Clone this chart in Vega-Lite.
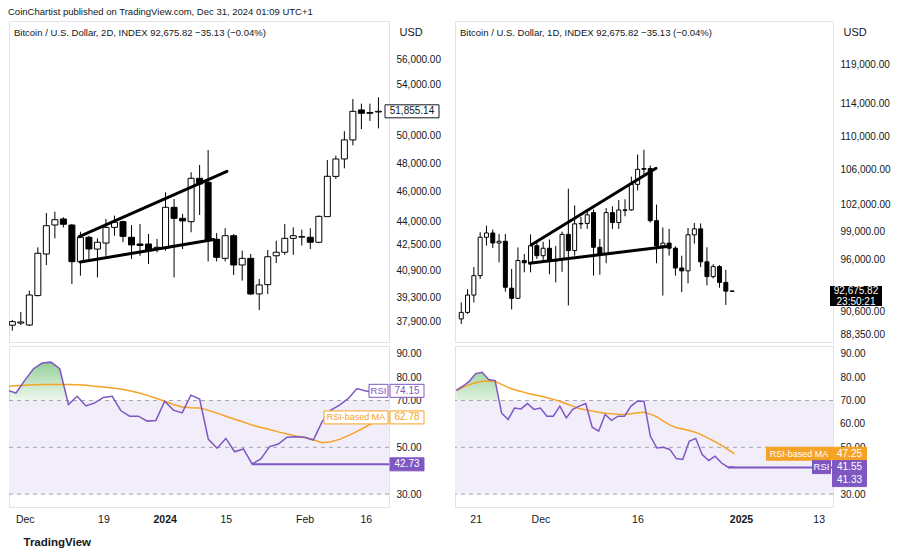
{
  "$schema": "https://vega.github.io/schema/vega-lite/v6.json",
  "background": "white",
  "padding": {"left": 8, "top": 7, "right": 0, "bottom": 0},
  "title": {"text": "CoinChartist published on TradingView.com, Dec 31, 2024 01:09 UTC+1", "anchor": "start", "fontSize": 9.5, "fontWeight": "normal", "color": "#131722", "offset": 4},
  "datasets": {
    "left": [
      {"t":"2023-11-27T00:00","o":37700,"h":38000,"l":37400,"c":37900,"rsi":74.4,"ma":76.1},
      {"t":"2023-11-29T00:00","o":37820,"h":38450,"l":37700,"c":37880,"rsi":73.2,"ma":76.3},
      {"t":"2023-12-01T00:00","o":37712,"h":39690,"l":37650,"c":39436,"rsi":78.6,"ma":76.5},
      {"t":"2023-12-03T00:00","o":39400,"h":42340,"l":39360,"c":41964,"rsi":83.6,"ma":76.7},
      {"t":"2023-12-05T00:00","o":41920,"h":44563,"l":41240,"c":43727,"rsi":86.0,"ma":76.8},
      {"t":"2023-12-07T00:00","o":43772,"h":44649,"l":42914,"c":44120,"rsi":86.4,"ma":76.9},
      {"t":"2023-12-09T00:00","o":44166,"h":44280,"l":43620,"c":43820,"rsi":83.6,"ma":76.9},
      {"t":"2023-12-11T00:00","o":43770,"h":43840,"l":40088,"c":41443,"rsi":68.3,"ma":76.8},
      {"t":"2023-12-13T00:00","o":41443,"h":43337,"l":40587,"c":42978,"rsi":71.8,"ma":76.7},
      {"t":"2023-12-15T00:00","o":42980,"h":43080,"l":41610,"c":42234,"rsi":67.7,"ma":76.5},
      {"t":"2023-12-17T00:00","o":42230,"h":42910,"l":40490,"c":42660,"rsi":69.0,"ma":76.1},
      {"t":"2023-12-19T00:00","o":42610,"h":44170,"l":41810,"c":43620,"rsi":71.3,"ma":75.8},
      {"t":"2023-12-21T00:00","o":43620,"h":44390,"l":43080,"c":43950,"rsi":71.8,"ma":75.4},
      {"t":"2023-12-23T00:00","o":43990,"h":44060,"l":42660,"c":43040,"rsi":65.6,"ma":74.9},
      {"t":"2023-12-25T00:00","o":42980,"h":43770,"l":41610,"c":42490,"rsi":63.3,"ma":74.2},
      {"t":"2023-12-27T00:00","o":42550,"h":43840,"l":41810,"c":42460,"rsi":63.3,"ma":73.3},
      {"t":"2023-12-29T00:00","o":42550,"h":43190,"l":41300,"c":42130,"rsi":61.2,"ma":72.2},
      {"t":"2023-12-31T00:00","o":42234,"h":42870,"l":42030,"c":42340,"rsi":61.5,"ma":71.0},
      {"t":"2024-01-02T00:00","o":42280,"h":45958,"l":42130,"c":44943,"rsi":69.7,"ma":69.7},
      {"t":"2024-01-04T00:00","o":44940,"h":45500,"l":40490,"c":44210,"rsi":65.9,"ma":68.3},
      {"t":"2024-01-06T00:00","o":44210,"h":44500,"l":42234,"c":44040,"rsi":64.7,"ma":67.2},
      {"t":"2024-01-08T00:00","o":43990,"h":47350,"l":43300,"c":46927,"rsi":72.3,"ma":66.9},
      {"t":"2024-01-10T00:00","o":46927,"h":47866,"l":44430,"c":46530,"rsi":70.6,"ma":66.8},
      {"t":"2024-01-12T00:00","o":46650,"h":48949,"l":41460,"c":42830,"rsi":53.4,"ma":65.8},
      {"t":"2024-01-14T00:00","o":42850,"h":43250,"l":41460,"c":41715,"rsi":49.6,"ma":64.6},
      {"t":"2024-01-16T00:00","o":41650,"h":43560,"l":41460,"c":43080,"rsi":53.8,"ma":63.3},
      {"t":"2024-01-18T00:00","o":43080,"h":43190,"l":40630,"c":41240,"rsi":48.1,"ma":62.0},
      {"t":"2024-01-20T00:00","o":41240,"h":42130,"l":40290,"c":41650,"rsi":49.3,"ma":60.8},
      {"t":"2024-01-22T00:00","o":41650,"h":41920,"l":39440,"c":39495,"rsi":42.9,"ma":59.5},
      {"t":"2024-01-24T00:00","o":39500,"h":40390,"l":38560,"c":40030,"rsi":45.0,"ma":58.5},
      {"t":"2024-01-26T00:00","o":40050,"h":42170,"l":39500,"c":41750,"rsi":50.3,"ma":57.6},
      {"t":"2024-01-28T00:00","o":41810,"h":42760,"l":41360,"c":42030,"rsi":51.4,"ma":56.6},
      {"t":"2024-01-30T00:00","o":42030,"h":43840,"l":41870,"c":42910,"rsi":54.3,"ma":55.7},
      {"t":"2024-02-01T00:00","o":42910,"h":43620,"l":41870,"c":43080,"rsi":54.5,"ma":54.8},
      {"t":"2024-02-03T00:00","o":42990,"h":43470,"l":42450,"c":43020,"rsi":54.3,"ma":54.2},
      {"t":"2024-02-05T00:00","o":42980,"h":43560,"l":42234,"c":42660,"rsi":53.1,"ma":53.2},
      {"t":"2024-02-07T00:00","o":42660,"h":44400,"l":42600,"c":44340,"rsi":60.9,"ma":52.0},
      {"t":"2024-02-09T00:00","o":44320,"h":48225,"l":44320,"c":47067,"rsi":65.9,"ma":52.4},
      {"t":"2024-02-11T00:00","o":47060,"h":48540,"l":46880,"c":48297,"rsi":68.0,"ma":53.4},
      {"t":"2024-02-13T00:00","o":48297,"h":50340,"l":47630,"c":49690,"rsi":70.9,"ma":55.0},
      {"t":"2024-02-15T00:00","o":49690,"h":52810,"l":49290,"c":51850,"rsi":75.1,"ma":56.8},
      {"t":"2024-02-17T00:00","o":51960,"h":52450,"l":50500,"c":51700,"rsi":74.1,"ma":58.8},
      {"t":"2024-02-19T00:00","o":51700,"h":52450,"l":51120,"c":51760,"rsi":73.5,"ma":60.8},
      {"t":"2024-02-21T00:00","o":51800,"h":52950,"l":50550,"c":51855.14,"rsi":74.15,"ma":62.78}
    ],
    "right": [
      {"t":"2024-11-18T00:00","o":89900,"h":91550,"l":89400,"c":90550,"rsi":74.3,"ma":74.3},
      {"t":"2024-11-19T00:00","o":90550,"h":92900,"l":90400,"c":92300,"rsi":76.1,"ma":75.5},
      {"t":"2024-11-20T00:00","o":92300,"h":95200,"l":91550,"c":94300,"rsi":78.2,"ma":76.8},
      {"t":"2024-11-21T00:00","o":94300,"h":98930,"l":93950,"c":98380,"rsi":81.5,"ma":77.6},
      {"t":"2024-11-22T00:00","o":98380,"h":99650,"l":97470,"c":98850,"rsi":82.1,"ma":78.2},
      {"t":"2024-11-23T00:00","o":98850,"h":99230,"l":97220,"c":97760,"rsi":79.0,"ma":78.3},
      {"t":"2024-11-24T00:00","o":97760,"h":98750,"l":95700,"c":97950,"rsi":78.5,"ma":78.2},
      {"t":"2024-11-25T00:00","o":97950,"h":98750,"l":92650,"c":93100,"rsi":64.7,"ma":76.9},
      {"t":"2024-11-26T00:00","o":93000,"h":95000,"l":90850,"c":91970,"rsi":61.9,"ma":75.6},
      {"t":"2024-11-27T00:00","o":91970,"h":97280,"l":91900,"c":95890,"rsi":66.8,"ma":74.6},
      {"t":"2024-11-28T00:00","o":95890,"h":96590,"l":94650,"c":95650,"rsi":66.4,"ma":73.9},
      {"t":"2024-11-29T00:00","o":95650,"h":98700,"l":94650,"c":97470,"rsi":68.7,"ma":73.1},
      {"t":"2024-11-30T00:00","o":97470,"h":97900,"l":96050,"c":96400,"rsi":66.2,"ma":72.5},
      {"t":"2024-12-01T00:00","o":96400,"h":97900,"l":95900,"c":97200,"rsi":66.8,"ma":71.9},
      {"t":"2024-12-02T00:00","o":97200,"h":98150,"l":94450,"c":95850,"rsi":63.3,"ma":71.2},
      {"t":"2024-12-03T00:00","o":95850,"h":97450,"l":93600,"c":96000,"rsi":63.3,"ma":70.5},
      {"t":"2024-12-04T00:00","o":96000,"h":99000,"l":94700,"c":98700,"rsi":67.6,"ma":69.7},
      {"t":"2024-12-05T00:00","o":98700,"h":103800,"l":91250,"c":96950,"rsi":62.6,"ma":68.6},
      {"t":"2024-12-06T00:00","o":96950,"h":101900,"l":96400,"c":99850,"rsi":66.2,"ma":67.6},
      {"t":"2024-12-07T00:00","o":99850,"h":100600,"l":99290,"c":99900,"rsi":67.6,"ma":66.6},
      {"t":"2024-12-08T00:00","o":99900,"h":101500,"l":99300,"c":100850,"rsi":68.7,"ma":66.0},
      {"t":"2024-12-09T00:00","o":101100,"h":101450,"l":94300,"c":97300,"rsi":58.6,"ma":65.5},
      {"t":"2024-12-10T00:00","o":97300,"h":98200,"l":94400,"c":96600,"rsi":56.9,"ma":65.0},
      {"t":"2024-12-11T00:00","o":96600,"h":101600,"l":95600,"c":101100,"rsi":64.0,"ma":64.6},
      {"t":"2024-12-12T00:00","o":101100,"h":101800,"l":99300,"c":100000,"rsi":61.5,"ma":64.3},
      {"t":"2024-12-13T00:00","o":100000,"h":102500,"l":99300,"c":101400,"rsi":63.3,"ma":64.1},
      {"t":"2024-12-14T00:00","o":101400,"h":102600,"l":100700,"c":101350,"rsi":63.3,"ma":64.0},
      {"t":"2024-12-15T00:00","o":101400,"h":105200,"l":101300,"c":104300,"rsi":67.6,"ma":64.3},
      {"t":"2024-12-16T00:00","o":104300,"h":107800,"l":103600,"c":106050,"rsi":69.7,"ma":64.8},
      {"t":"2024-12-17T00:00","o":106050,"h":108350,"l":105300,"c":106150,"rsi":69.7,"ma":65.0},
      {"t":"2024-12-18T00:00","o":106150,"h":106500,"l":100000,"c":100200,"rsi":54.7,"ma":64.2},
      {"t":"2024-12-19T00:00","o":100200,"h":102000,"l":95600,"c":97450,"rsi":49.7,"ma":63.0},
      {"t":"2024-12-20T00:00","o":97450,"h":99450,"l":92250,"c":97750,"rsi":50.0,"ma":61.2},
      {"t":"2024-12-21T00:00","o":97750,"h":99300,"l":96400,"c":97200,"rsi":49.1,"ma":59.6},
      {"t":"2024-12-22T00:00","o":97200,"h":97400,"l":94300,"c":95100,"rsi":45.2,"ma":58.4},
      {"t":"2024-12-23T00:00","o":95100,"h":96400,"l":92600,"c":94800,"rsi":44.8,"ma":57.8},
      {"t":"2024-12-24T00:00","o":94800,"h":99400,"l":93500,"c":98650,"rsi":52.6,"ma":57.2},
      {"t":"2024-12-25T00:00","o":98650,"h":99950,"l":97700,"c":99300,"rsi":53.8,"ma":56.4},
      {"t":"2024-12-26T00:00","o":99300,"h":99900,"l":95200,"c":95750,"rsi":46.9,"ma":55.2},
      {"t":"2024-12-27T00:00","o":95750,"h":97300,"l":93300,"c":94200,"rsi":44.4,"ma":53.8},
      {"t":"2024-12-28T00:00","o":94200,"h":95500,"l":94000,"c":95250,"rsi":46.2,"ma":52.4},
      {"t":"2024-12-29T00:00","o":95250,"h":95400,"l":93050,"c":93600,"rsi":43.3,"ma":50.8},
      {"t":"2024-12-30T00:00","o":93600,"h":94900,"l":91300,"c":92700,"rsi":41.5,"ma":49.0},
      {"t":"2024-12-31T00:00","o":92710,"h":92800,"l":92600,"c":92675.82,"rsi":41.55,"ma":47.25}
    ],
    "leftTrend": [
      {"t1":"2023-12-12T17:00","p1":43015,"t2":"2024-01-16T10:00","p2":47420},
      {"t1":"2023-12-12T23:00","p1":41420,"t2":"2024-01-13T08:00","p2":42830}
    ],
    "rightTrend": [
      {"t1":"2024-11-29T02:00","p1":97549,"t2":"2024-12-18T22:00","p2":106172},
      {"t1":"2024-11-28T20:00","p1":95597,"t2":"2024-12-20T23:30","p2":97407}
    ]
  },
  "spacing": 4,
  "resolve": {"scale": {"x": "independent", "y": "independent"}},
  "hconcat": [
    {
      "spacing": 2,
      "resolve": {"scale": {"x": "independent", "y": "independent"}},
      "vconcat": [
        {
          "width": 380, "height": 321,
          "title": {"text": "Bitcoin / U.S. Dollar, 2D, INDEX  92,675.82  −35.13 (−0.04%)", "anchor": "start", "offset": -16, "dx": 5, "fontSize": 9.5, "fontWeight": "normal", "color": "#131722"},
          "layer": [
            {"data": {"name": "left"}, "mark": {"type": "rule", "color": "#000000", "strokeWidth": 1, "clip": true},
             "encoding": {
               "x": {"field": "t", "type": "temporal", "scale": {"domain": [{"year": 2023, "month": 11, "date": 27, "hours": 9, "minutes": 36}, {"year": 2024, "month": 2, "date": 22, "hours": 7, "minutes": 26}]}, "axis": null},
               "y": {"field": "l", "type": "quantitative", "scale": {"type": "log", "domain": [36768, 59325], "nice": false, "zero": false},
                     "axis": {"orient": "right", "zindex": 0, "values": [37900, 39300, 40900, 42500, 44000, 46000, 48000, 50000, 54000, 56000], "format": ",.2f", "labelOverlap": false, "labelFlush": false, "labelBound": false, "labelFontSize": 10, "labelColor": "#131722", "labelPadding": 7, "grid": false, "ticks": false, "domain": false, "minExtent": 60, "maxExtent": 60,
                              "title": "USD", "titleAngle": 0, "titleAlign": "left", "titleBaseline": "middle", "titleX": 10, "titleY": 11, "titleFontSize": 11, "titleFontWeight": "normal", "titleColor": "#131722"}},
               "y2": {"field": "h"}
             }},
            {"data": {"name": "left"}, "mark": {"type": "bar", "size": 6, "stroke": "#000000", "strokeWidth": 1, "clip": true},
             "encoding": {
               "x": {"field": "t", "type": "temporal", "axis": null},
               "y": {"field": "o", "type": "quantitative"},
               "y2": {"field": "c"},
               "fill": {"condition": {"test": "datum.c >= datum.o", "value": "#ffffff"}, "value": "#000000"}
             }},
            {"data": {"name": "leftTrend"}, "mark": {"type": "rule", "color": "#000000", "strokeWidth": 3, "strokeCap": "round"},
             "encoding": {"x": {"field": "t1", "type": "temporal", "axis": null}, "x2": {"field": "t2"}, "y": {"field": "p1", "type": "quantitative"}, "y2": {"field": "p2"}}},
            {"data": {"values": [{"v": 51855.14, "txt": "51,855.14"}]},
             "encoding": {"x": {"datum": {"year": 2024, "month": 2, "date": 22, "hours": 7, "minutes": 26}, "type": "temporal", "axis": null}, "y": {"field": "v", "type": "quantitative"}},
             "layer": [
               {"mark": {"type": "point", "shape": "M-27,-6.5H27V6.5H-27Z", "size": 4, "filled": true, "fill": "#ffffff", "stroke": "#131722", "strokeWidth": 1, "opacity": 1, "xOffset": 28}},
               {"mark": {"type": "text", "dx": 28, "fontSize": 10, "color": "#131722", "align": "center", "baseline": "middle"}, "encoding": {"text": {"field": "txt"}}}
             ]}
          ]
        },
        {
          "width": 380, "height": 161,
          "layer": [
            {"data": {"name": "left"}, "transform": [{"filter": {"field": "t", "lte": {"year": 2023, "month": 12, "date": 11}}}],
             "mark": {"type": "area", "clip": true, "color": {"gradient": "linear", "x1": 0, "y1": 0, "x2": 0, "y2": 1, "stops": [{"offset": 0, "color": "rgba(76,175,80,0.6)"}, {"offset": 1, "color": "rgba(76,175,80,0.03)"}]}},
             "encoding": {
               "x": {"field": "t", "type": "temporal", "scale": {"domain": [{"year": 2023, "month": 11, "date": 27, "hours": 9, "minutes": 36}, {"year": 2024, "month": 2, "date": 22, "hours": 7, "minutes": 26}]},
                     "axis": {"zindex": 0, "values": [{"year": 2023, "month": 12, "date": 1}, {"year": 2023, "month": 12, "date": 19}, {"year": 2024, "month": 1, "date": 2}, {"year": 2024, "month": 1, "date": 16}, {"year": 2024, "month": 2, "date": 3}, {"year": 2024, "month": 2, "date": 17}],
                              "labelExpr": "month(datum.value)==11 ? (date(datum.value)<10 ? 'Dec' : '19') : month(datum.value)==0 ? (date(datum.value)<10 ? '2024' : '15') : (date(datum.value)<10 ? 'Feb' : '16')",
                              "labelFontWeight": {"condition": {"test": "month(datum.value)==0 && date(datum.value)<10", "value": "bold"}, "value": "normal"},
                              "labelFontSize": 10.5, "labelColor": "#131722", "labelPadding": 7, "labelFlush": false, "labelOverlap": false, "ticks": false, "grid": false, "domain": false,
                              "title": "TradingView", "titleAnchor": "start", "titleAlign": "left", "titleBaseline": "middle", "titleX": 14, "titleY": 35, "titleFontSize": 11.5, "titleFontWeight": "bold", "titleColor": "#131722"}},
               "y": {"field": "rsi", "type": "quantitative", "scale": {"domain": [24.5, 93.3], "nice": false, "zero": false},
                     "axis": {"orient": "right", "zindex": 0, "values": [30, 50, 70, 80, 90], "format": ".2f", "labelOverlap": false, "labelFlush": false, "labelFontSize": 10, "labelColor": "#131722", "labelPadding": 7, "grid": false, "ticks": false, "domain": false, "minExtent": 60, "maxExtent": 60, "title": null}},
               "y2": {"datum": 70}
             }},
            {"data": {"values": [{"lo": 30, "hi": 70}]}, "mark": {"type": "rect", "color": "#f1edf9"},
             "encoding": {"x": {"datum": {"year": 2023, "month": 11, "date": 27, "hours": 9, "minutes": 36}, "type": "temporal"}, "x2": {"datum": {"year": 2024, "month": 2, "date": 22, "hours": 7, "minutes": 26}}, "y": {"field": "lo", "type": "quantitative"}, "y2": {"field": "hi"}}},
            {"data": {"values": [{"lv": 70}, {"lv": 50}, {"lv": 30}]}, "mark": {"type": "rule", "color": "#a3a6af", "strokeDash": [4, 4], "strokeWidth": 1},
             "encoding": {"y": {"field": "lv", "type": "quantitative"}}},
            {"data": {"name": "left"}, "mark": {"type": "line", "color": "#f5a324", "strokeWidth": 1.5, "clip": true},
             "encoding": {"x": {"field": "t", "type": "temporal"}, "y": {"field": "ma", "type": "quantitative"}}},
            {"data": {"name": "left"}, "mark": {"type": "line", "color": "#7e57c2", "strokeWidth": 1.5, "clip": true},
             "encoding": {"x": {"field": "t", "type": "temporal"}, "y": {"field": "rsi", "type": "quantitative"}}},
            {"data": {"values": [{"t": "2024-01-22T00:00", "v": 42.73}]}, "mark": {"type": "rule", "color": "#7e57c2", "strokeWidth": 2},
             "encoding": {"x": {"field": "t", "type": "temporal"}, "x2": {"datum": {"year": 2024, "month": 2, "date": 22, "hours": 7, "minutes": 26}}, "y": {"field": "v", "type": "quantitative"}}},
            {"data": {"values": [{"v": 74.15, "txt": "RSI"}]},
             "encoding": {"x": {"datum": {"year": 2024, "month": 2, "date": 22, "hours": 7, "minutes": 26}, "type": "temporal"}, "y": {"field": "v", "type": "quantitative"}},
             "layer": [
               {"mark": {"type": "point", "shape": "M-9.5,-6.5H9.5V6.5H-9.5Z", "size": 4, "filled": true, "fill": "#ffffff", "stroke": "#7e57c2", "strokeWidth": 1, "opacity": 1, "xOffset": -10.5}},
               {"mark": {"type": "text", "dx": -10.5, "fontSize": 9.5, "color": "#7e57c2", "align": "center", "baseline": "middle"}, "encoding": {"text": {"field": "txt"}}}
             ]},
            {"data": {"values": [{"v": 74.15, "txt": "74.15"}]},
             "encoding": {"x": {"datum": {"year": 2024, "month": 2, "date": 22, "hours": 7, "minutes": 26}, "type": "temporal"}, "y": {"field": "v", "type": "quantitative"}},
             "layer": [
               {"mark": {"type": "point", "shape": "M-17,-6.5H17V6.5H-17Z", "size": 4, "filled": true, "fill": "#ffffff", "stroke": "#7e57c2", "strokeWidth": 1, "opacity": 1, "xOffset": 18}},
               {"mark": {"type": "text", "dx": 18, "fontSize": 10, "color": "#7e57c2", "align": "center", "baseline": "middle"}, "encoding": {"text": {"field": "txt"}}}
             ]},
            {"data": {"values": [{"v": 62.78, "txt": "RSI-based MA"}]},
             "encoding": {"x": {"datum": {"year": 2024, "month": 2, "date": 22, "hours": 7, "minutes": 26}, "type": "temporal"}, "y": {"field": "v", "type": "quantitative"}},
             "layer": [
               {"mark": {"type": "point", "shape": "M-32,-6.5H32V6.5H-32Z", "size": 4, "filled": true, "fill": "#ffffff", "stroke": "#f5a324", "strokeWidth": 1, "opacity": 1, "xOffset": -33}},
               {"mark": {"type": "text", "dx": -33, "fontSize": 9, "color": "#f5a324", "align": "center", "baseline": "middle"}, "encoding": {"text": {"field": "txt"}}}
             ]},
            {"data": {"values": [{"v": 62.78, "txt": "62.78"}]},
             "encoding": {"x": {"datum": {"year": 2024, "month": 2, "date": 22, "hours": 7, "minutes": 26}, "type": "temporal"}, "y": {"field": "v", "type": "quantitative"}},
             "layer": [
               {"mark": {"type": "point", "shape": "M-17,-6.5H17V6.5H-17Z", "size": 4, "filled": true, "fill": "#ffffff", "stroke": "#f5a324", "strokeWidth": 1, "opacity": 1, "xOffset": 18}},
               {"mark": {"type": "text", "dx": 18, "fontSize": 10, "color": "#f5a324", "align": "center", "baseline": "middle"}, "encoding": {"text": {"field": "txt"}}}
             ]},
            {"data": {"values": [{"v": 42.73, "txt": "42.73"}]},
             "encoding": {"x": {"datum": {"year": 2024, "month": 2, "date": 22, "hours": 7, "minutes": 26}, "type": "temporal"}, "y": {"field": "v", "type": "quantitative"}},
             "layer": [
               {"mark": {"type": "point", "shape": "M-17,-6.5H17V6.5H-17Z", "size": 4, "filled": true, "fill": "#7e57c2", "stroke": "#7e57c2", "strokeWidth": 1, "opacity": 1, "xOffset": 18}},
               {"mark": {"type": "text", "dx": 18, "fontSize": 10, "color": "#ffffff", "align": "center", "baseline": "middle"}, "encoding": {"text": {"field": "txt"}}}
             ]}
          ]
        }
      ]
    },
    {
      "spacing": 2,
      "resolve": {"scale": {"x": "independent", "y": "independent"}},
      "vconcat": [
        {
          "width": 378, "height": 321,
          "title": {"text": "Bitcoin / U.S. Dollar, 1D, INDEX  92,675.82  −35.13 (−0.04%)", "anchor": "start", "offset": -16, "dx": 5, "fontSize": 9.5, "fontWeight": "normal", "color": "#131722"},
          "layer": [
            {"data": {"name": "right"}, "mark": {"type": "rule", "color": "#000000", "strokeWidth": 1, "clip": true},
             "encoding": {
               "x": {"field": "t", "type": "temporal", "scale": {"domain": [{"year": 2024, "month": 11, "date": 17, "hours": 19, "minutes": 12}, {"year": 2025, "month": 1, "date": 15, "hours": 5, "minutes": 17}]}, "axis": null},
               "y": {"field": "l", "type": "quantitative", "scale": {"type": "log", "domain": [87637, 124924], "nice": false, "zero": false},
                     "axis": {"orient": "right", "zindex": 0, "values": [88350, 90600, 96000, 99000, 102000, 106000, 110000, 114000, 119000], "format": ",.2f", "labelOverlap": false, "labelFlush": false, "labelBound": false, "labelFontSize": 10, "labelColor": "#131722", "labelPadding": 7, "grid": false, "ticks": false, "domain": false, "minExtent": 60, "maxExtent": 60,
                              "title": "USD", "titleAngle": 0, "titleAlign": "left", "titleBaseline": "middle", "titleX": 10, "titleY": 11, "titleFontSize": 11, "titleFontWeight": "normal", "titleColor": "#131722"}},
               "y2": {"field": "h"}
             }},
            {"data": {"name": "right"}, "mark": {"type": "bar", "size": 4, "stroke": "#000000", "strokeWidth": 1, "clip": true},
             "encoding": {
               "x": {"field": "t", "type": "temporal", "axis": null},
               "y": {"field": "o", "type": "quantitative"},
               "y2": {"field": "c"},
               "fill": {"condition": {"test": "datum.c >= datum.o", "value": "#ffffff"}, "value": "#000000"}
             }},
            {"data": {"name": "rightTrend"}, "mark": {"type": "rule", "color": "#000000", "strokeWidth": 3, "strokeCap": "round"},
             "encoding": {"x": {"field": "t1", "type": "temporal", "axis": null}, "x2": {"field": "t2"}, "y": {"field": "p1", "type": "quantitative"}, "y2": {"field": "p2"}}},
            {"data": {"values": [{"v": 92675.82}]},
             "encoding": {"x": {"datum": {"year": 2025, "month": 1, "date": 15, "hours": 5, "minutes": 17}, "type": "temporal", "axis": null}, "y": {"field": "v", "type": "quantitative"}},
             "layer": [
               {"mark": {"type": "point", "shape": "M-26,-10H26V10H-26Z", "size": 4, "filled": true, "fill": "#000000", "strokeWidth": 0, "opacity": 1, "xOffset": 28, "yOffset": 4.5}},
               {"mark": {"type": "text", "text": ["92,675.82", "23:50:21"], "lineHeight": 10.5, "dx": 28, "dy": -5, "fontSize": 10, "color": "#ffffff", "align": "center", "baseline": "top"}}
             ]}
          ]
        },
        {
          "width": 378, "height": 161,
          "layer": [
            {"data": {"name": "right"}, "transform": [{"filter": {"field": "t", "lte": {"year": 2024, "month": 11, "date": 25}}}],
             "mark": {"type": "area", "clip": true, "color": {"gradient": "linear", "x1": 0, "y1": 0, "x2": 0, "y2": 1, "stops": [{"offset": 0, "color": "rgba(76,175,80,0.5)"}, {"offset": 1, "color": "rgba(76,175,80,0.03)"}]}},
             "encoding": {
               "x": {"field": "t", "type": "temporal", "scale": {"domain": [{"year": 2024, "month": 11, "date": 17, "hours": 19, "minutes": 12}, {"year": 2025, "month": 1, "date": 15, "hours": 5, "minutes": 17}]},
                     "axis": {"zindex": 0, "values": [{"year": 2024, "month": 11, "date": 21}, {"year": 2024, "month": 12, "date": 1}, {"year": 2024, "month": 12, "date": 16}, {"year": 2025, "month": 1, "date": 1}, {"year": 2025, "month": 1, "date": 13}],
                              "labelExpr": "month(datum.value)==10 ? '21' : month(datum.value)==11 ? (date(datum.value)==1 ? 'Dec' : '16') : (date(datum.value)==1 ? '2025' : '13')",
                              "labelFontWeight": {"condition": {"test": "month(datum.value)==0 && date(datum.value)==1", "value": "bold"}, "value": "normal"},
                              "labelFontSize": 10.5, "labelColor": "#131722", "labelPadding": 7, "labelFlush": false, "labelOverlap": false, "ticks": false, "grid": false, "domain": false, "title": null}},
               "y": {"field": "rsi", "type": "quantitative", "scale": {"domain": [24.5, 93.3], "nice": false, "zero": false},
                     "axis": {"orient": "right", "zindex": 0, "values": [30, 50, 70, 80, 90], "format": ".2f", "labelOverlap": false, "labelFlush": false, "labelFontSize": 10, "labelColor": "#131722", "labelPadding": 7, "grid": false, "ticks": false, "domain": false, "minExtent": 60, "maxExtent": 60, "title": null}},
               "y2": {"datum": 70}
             }},
            {"data": {"values": [{"lo": 30, "hi": 70}]}, "mark": {"type": "rect", "color": "#f1edf9"},
             "encoding": {"x": {"datum": {"year": 2024, "month": 11, "date": 17, "hours": 19, "minutes": 12}, "type": "temporal"}, "x2": {"datum": {"year": 2025, "month": 1, "date": 15, "hours": 5, "minutes": 17}}, "y": {"field": "lo", "type": "quantitative"}, "y2": {"field": "hi"}}},
            {"data": {"values": [{"lv": 70}, {"lv": 50}, {"lv": 30}]}, "mark": {"type": "rule", "color": "#a3a6af", "strokeDash": [4, 4], "strokeWidth": 1},
             "encoding": {"y": {"field": "lv", "type": "quantitative"}}},
            {"data": {"name": "right"}, "mark": {"type": "line", "color": "#f5a324", "strokeWidth": 1.5, "clip": true},
             "encoding": {"x": {"field": "t", "type": "temporal"}, "y": {"field": "ma", "type": "quantitative"}}},
            {"data": {"name": "right"}, "mark": {"type": "line", "color": "#7e57c2", "strokeWidth": 1.5, "clip": true},
             "encoding": {"x": {"field": "t", "type": "temporal"}, "y": {"field": "rsi", "type": "quantitative"}}},
            {"data": {"values": [{"t": "2024-12-30T00:00", "v": 41.33}]}, "mark": {"type": "rule", "color": "#7e57c2", "strokeWidth": 2},
             "encoding": {"x": {"field": "t", "type": "temporal"}, "x2": {"datum": {"year": 2025, "month": 1, "date": 15, "hours": 5, "minutes": 17}}, "y": {"field": "v", "type": "quantitative"}}},
            {"data": {"values": [{"v": 60, "txt": "60.00"}]},
             "mark": {"type": "text", "dx": 7, "fontSize": 10, "color": "#131722", "align": "left", "baseline": "middle"},
             "encoding": {"x": {"datum": {"year": 2025, "month": 1, "date": 15, "hours": 5, "minutes": 17}, "type": "temporal"}, "y": {"field": "v", "type": "quantitative"}, "text": {"field": "txt"}}},
            {"data": {"values": [{"v": 47.25, "txt": "RSI-based MA"}]},
             "encoding": {"x": {"datum": {"year": 2025, "month": 1, "date": 15, "hours": 5, "minutes": 17}, "type": "temporal"}, "y": {"field": "v", "type": "quantitative"}},
             "layer": [
               {"mark": {"type": "point", "shape": "M-32.5,-6.5H32.5V6.5H-32.5Z", "size": 4, "filled": true, "fill": "#f5a324", "stroke": "#f5a324", "strokeWidth": 1, "opacity": 1, "xOffset": -34}},
               {"mark": {"type": "text", "dx": -34, "fontSize": 9, "color": "#ffffff", "align": "center", "baseline": "middle"}, "encoding": {"text": {"field": "txt"}}}
             ]},
            {"data": {"values": [{"v": 47.25, "txt": "47.25"}]},
             "encoding": {"x": {"datum": {"year": 2025, "month": 1, "date": 15, "hours": 5, "minutes": 17}, "type": "temporal"}, "y": {"field": "v", "type": "quantitative"}},
             "layer": [
               {"mark": {"type": "point", "shape": "M-17,-6.5H17V6.5H-17Z", "size": 4, "filled": true, "fill": "#f5a324", "stroke": "#f5a324", "strokeWidth": 1, "opacity": 1, "xOffset": 16.5}},
               {"mark": {"type": "text", "dx": 16.5, "fontSize": 10, "color": "#ffffff", "align": "center", "baseline": "middle"}, "encoding": {"text": {"field": "txt"}}}
             ]},
            {"data": {"values": [{"v": 41.55, "txt": "RSI"}]},
             "encoding": {"x": {"datum": {"year": 2025, "month": 1, "date": 15, "hours": 5, "minutes": 17}, "type": "temporal"}, "y": {"field": "v", "type": "quantitative"}},
             "layer": [
               {"mark": {"type": "point", "shape": "M-9,-6.5H9V6.5H-9Z", "size": 4, "filled": true, "fill": "#7e57c2", "stroke": "#7e57c2", "strokeWidth": 1, "opacity": 1, "xOffset": -11.5}},
               {"mark": {"type": "text", "dx": -11.5, "fontSize": 9.5, "color": "#ffffff", "align": "center", "baseline": "middle"}, "encoding": {"text": {"field": "txt"}}}
             ]},
            {"data": {"values": [{"v": 41.55, "txt": "41.55"}]},
             "encoding": {"x": {"datum": {"year": 2025, "month": 1, "date": 15, "hours": 5, "minutes": 17}, "type": "temporal"}, "y": {"field": "v", "type": "quantitative"}},
             "layer": [
               {"mark": {"type": "point", "shape": "M-17,-6.5H17V6.5H-17Z", "size": 4, "filled": true, "fill": "#7e57c2", "stroke": "#7e57c2", "strokeWidth": 1, "opacity": 1, "xOffset": 16.5}},
               {"mark": {"type": "text", "dx": 16.5, "fontSize": 10, "color": "#ffffff", "align": "center", "baseline": "middle"}, "encoding": {"text": {"field": "txt"}}}
             ]},
            {"data": {"values": [{"v": 41.33, "txt": "41.33"}]},
             "encoding": {"x": {"datum": {"year": 2025, "month": 1, "date": 15, "hours": 5, "minutes": 17}, "type": "temporal"}, "y": {"field": "v", "type": "quantitative"}},
             "layer": [
               {"mark": {"type": "point", "shape": "M-17,-6.5H17V6.5H-17Z", "size": 4, "filled": true, "fill": "#7e57c2", "stroke": "#7e57c2", "strokeWidth": 1, "opacity": 1, "xOffset": 16.5, "yOffset": 12.5}},
               {"mark": {"type": "text", "dx": 16.5, "dy": 12.5, "fontSize": 10, "color": "#ffffff", "align": "center", "baseline": "middle"}, "encoding": {"text": {"field": "txt"}}}
             ]}
          ]
        }
      ]
    }
  ],
  "config": {
    "font": "Liberation Sans",
    "view": {"stroke": "#e0e3eb", "strokeWidth": 1},
    "axis": {"labelOverlap": false}
  }
}
